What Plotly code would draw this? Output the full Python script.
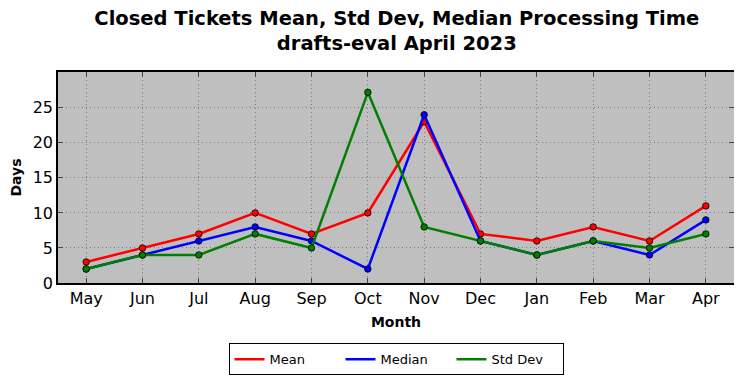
import plotly.graph_objects as go

months = ["May", "Jun", "Jul", "Aug", "Sep", "Oct", "Nov", "Dec", "Jan", "Feb", "Mar", "Apr"]
mean_vals = [3, 5, 7, 10, 7, 10, 23, 7, 6, 8, 6, 11]
median_vals = [2, 4, 6, 8, 6, 2, 24, 6, 4, 6, 4, 9]
std_vals = [2, 4, 4, 7, 5, 27.2, 8, 6, 4, 6, 5, 7]
y_ticks = [0, 5, 10, 15, 20, 25]

series = [("Mean", mean_vals, "#ff0000"), ("Median", median_vals, "#0000ff"), ("Std Dev", std_vals, "#008000")]

fig = go.Figure()
for name, vals, color in series:
    fig.add_trace(go.Scatter(
        x=list(range(len(months))), y=vals, name=name, mode="lines+markers", showlegend=False,
        line=dict(color=color, width=2.5),
        marker=dict(size=6.5, color=color, line=dict(color="black", width=0.8)),
    ))
for name, vals, color in series:
    fig.add_trace(go.Scatter(
        x=[None], y=[None], name=name, mode="lines", showlegend=True,
        line=dict(color=color, width=2.5),
    ))

font = "DejaVu Sans, sans-serif"
fig.update_layout(
    width=742, height=378,
    margin=dict(l=50, r=16, t=64, b=102),
    paper_bgcolor="white", plot_bgcolor="#bfbfbf",
    font=dict(family=font, color="black"),
    title=dict(text="<b>Closed Tickets Mean, Std Dev, Median Processing Time<br>drafts-eval April 2023</b>",
               x=0.524, xanchor="center", yref="container", y=1 - 17 / 378, yanchor="middle",
               font=dict(size=19.5)),
    showlegend=True,
    legend=dict(orientation="h", x=0.5, xanchor="center", y=-0.28, yanchor="top",
                bordercolor="black", borderwidth=1, font=dict(size=13),
                entrywidth=66, itemwidth=30),
)
fig.update_xaxes(
    range=[-0.5, 11.5], tickmode="array", tickvals=list(range(len(months))), ticktext=months,
    tickfont=dict(size=16), showgrid=True, gridcolor="#7a7a7a", griddash="1px,3px", gridwidth=1,
    showline=True, linecolor="black", linewidth=1.5, mirror="ticks", ticks="inside", ticklen=5,
    title=dict(text="<b>Month</b>", font=dict(size=14), standoff=10), zeroline=False, automargin=False,
)
fig.update_yaxes(
    range=[0, 30.1], tickmode="array", tickvals=y_ticks, tickfont=dict(size=16),
    showgrid=True, gridcolor="#7a7a7a", griddash="1px,3px", gridwidth=1,
    showline=True, linecolor="black", linewidth=1.5, mirror="ticks", ticks="inside", ticklen=5,
    title=dict(text="<b>Days</b>", font=dict(size=14), standoff=9), zeroline=False, automargin=False,
)
fig.write_html("out.html")
